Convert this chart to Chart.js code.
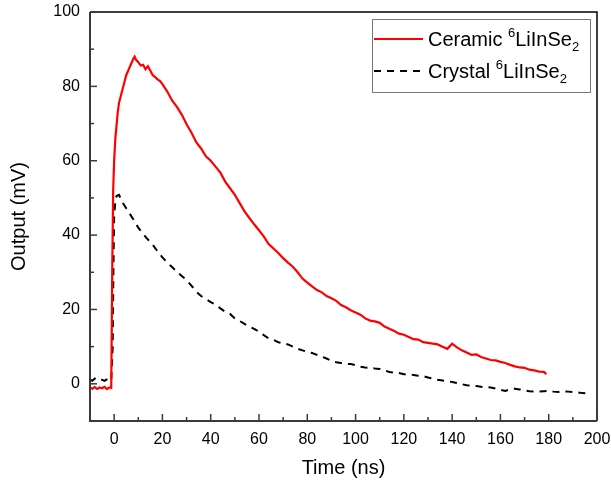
<!DOCTYPE html>
<html>
<head>
<meta charset="utf-8">
<script src="https://cdn.jsdelivr.net/npm/chart.js@4.4.0/dist/chart.umd.min.js"></script>
<style>
  html, body { margin: 0; padding: 0; background: #fff; }
  #wrap { width: 611px; height: 484px; position: relative; }
</style>
</head>
<body>
<div id="wrap"><canvas id="pulse-chart"></canvas></div>
<script>
// Ceramic 6LiInSe2 (red, solid)
const ceramicTime = [-10, -9, -8, -7, -6, -5, -4, -3, -2, -1.2, -0.8, -0.4, 0, 0.5, 1, 1.5, 2, 3, 4, 5, 6, 7, 8, 8.5, 9, 10,
    11, 12, 13, 14, 15, 16, 17, 18, 19, 20, 22, 24, 26, 28, 30, 32, 34, 36, 38, 40, 42, 44, 46, 48, 50,
    52, 54, 56, 58, 60, 62, 64, 66, 68, 70, 72, 74, 76, 78, 80, 82, 84, 86, 88, 90, 92, 94, 96, 98, 100,
    102, 104, 106, 108, 110, 112, 114, 116, 118, 120, 122, 124, 126, 128, 130, 132, 134, 136, 138, 140,
    142, 144, 146, 148, 150, 152, 154, 156, 158, 160, 162, 164, 166, 168, 170, 172, 174, 176, 178, 179];
const ceramicOutput = [-1.0, -1.3, -0.9, -1.4, -1.0, -1.2, -0.8, -1.4, -1.0, -1.1, 30, 52, 60, 66, 69.5, 73, 75.5, 78, 80.5, 83, 84.5, 86, 87.5, 88, 87.2, 86.5,
    85.6, 85.8, 84.6, 85.4, 84.2, 83.0, 82.5, 81.9, 81.4, 80.6, 78.6, 76.2, 74.5, 72.4, 69.8, 67.6, 65.0, 63.3, 61.2, 60.0, 58.4, 56.8, 54.4, 52.6, 50.8,
    48.6, 46.4, 44.6, 42.9, 41.3, 39.6, 37.6, 36.4, 35.2, 33.8, 32.6, 31.5, 30.0, 28.3, 27.2, 26.2, 25.2, 24.6, 23.6, 23.0, 22.3, 21.2, 20.6, 19.8, 19.2,
    18.6, 17.6, 17.0, 16.8, 16.4, 15.4, 14.8, 14.2, 13.5, 13.2, 12.6, 12.0, 11.9, 11.2, 11.0, 10.8, 10.6, 10.0, 9.4, 10.8,
    9.8, 9.0, 8.4, 7.8, 7.9, 7.2, 6.8, 6.4, 6.3, 5.9, 5.6, 5.1, 4.7, 4.4, 4.3, 3.8, 3.6, 3.3, 3.2, 2.6];

// Crystal 6LiInSe2 (black, dashed)
const crystalTime = [-10, -9, -8, -7, -6, -5, -4, -3, -2, -1.2, -0.6, -0.3, 0, 0.5, 1, 2, 3, 4, 5, 6, 8, 10, 12, 14, 16, 18, 20,
    22, 24, 26, 28, 30, 32, 34, 36, 38, 40, 42, 44, 46, 48, 50, 52, 54, 56, 58, 60, 62, 64, 66, 68, 70,
    72, 74, 76, 78, 80, 82, 84, 86, 88, 90, 92, 94, 96, 98, 100, 102, 104, 106, 108, 110, 112, 114, 116, 118, 120,
    122, 124, 126, 128, 130, 132, 134, 136, 138, 140, 142, 144, 146, 148, 150, 152, 154, 156, 158, 160,
    162, 164, 166, 168, 170, 172, 174, 176, 178, 180, 182, 184, 186, 188, 190, 192, 194, 196, 197];
const crystalOutput = [1.2, 0.8, 1.4, 1.0, 0.9, 1.1, 0.8, 1.2, 1.6, 1.0, 10, 30, 45, 49, 50.5, 50.8, 49.5, 48.2, 47.2, 46.2, 44.2, 42.0, 40.3, 38.8, 37.4, 35.6, 34.0,
    32.6, 31.4, 30.1, 29.0, 27.9, 26.4, 24.8, 23.6, 22.8, 22.0, 21.3, 20.3, 19.4, 18.8, 17.6, 16.9, 16.1, 15.4, 14.8, 14.0, 13.1, 12.2, 11.8, 11.2, 10.9,
    10.6, 10.0, 9.4, 9.0, 8.6, 8.3, 7.8, 7.3, 6.8, 6.2, 5.8, 5.6, 5.4, 5.3, 5.0, 4.6, 4.4, 4.3, 4.1, 4.0, 3.6, 3.2, 3.0, 2.9, 2.6,
    2.6, 2.4, 2.2, 2.1, 1.7, 1.4, 1.1, 0.9, 0.7, 0.5, 0.2, -0.1, -0.4, -0.5, -0.6, -0.8, -0.9, -1.0, -1.3, -1.6,
    -1.9, -1.5, -1.3, -1.5, -1.8, -2.0, -2.1, -2.1, -2.0, -1.9, -2.1, -2.2, -2.0, -2.1, -2.2, -2.3, -2.5, -2.6, -2.6];

const xRange = [-10, 200];
const yRange = [-10, 100];
const tickStep = 20;

const FONT = "'Liberation Sans', Arial, sans-serif";

function toPoints(xs, ys) {
    return xs.map((x, i) => ({ x: x, y: ys[i] }));
}

// inward major/minor ticks and the box round the plot
const framePlugin = {
    id: 'frame',
    afterDraw(chart) {
        const ctx = chart.ctx;
        const area = chart.chartArea;
        const xs = chart.scales.x;
        const ys = chart.scales.y;
        ctx.save();
        ctx.lineCap = 'butt';

        ctx.strokeStyle = '#000';
        ctx.lineWidth = 1.5;
        ctx.beginPath();
        ctx.moveTo(area.left, area.top);
        ctx.lineTo(area.right, area.top);
        ctx.lineTo(area.right, area.bottom);
        ctx.stroke();

        ctx.strokeStyle = '#3a3a3a';
        ctx.lineWidth = 2;
        ctx.beginPath();
        ctx.moveTo(area.left, area.top);
        ctx.lineTo(area.left, area.bottom);
        ctx.lineTo(area.right, area.bottom);
        ctx.stroke();

        ctx.lineWidth = 1.5;
        xs.ticks.forEach(t => {
            const px = xs.getPixelForValue(t.value);
            ctx.beginPath();
            ctx.moveTo(px, area.bottom);
            ctx.lineTo(px, area.bottom - 7);
            ctx.stroke();
            const mv = t.value + tickStep / 2;
            if (mv <= xRange[1]) {
                const mp = xs.getPixelForValue(mv);
                ctx.beginPath();
                ctx.moveTo(mp, area.bottom);
                ctx.lineTo(mp, area.bottom - 4);
                ctx.stroke();
            }
        });
        ys.ticks.forEach(t => {
            const py = ys.getPixelForValue(t.value);
            ctx.beginPath();
            ctx.moveTo(area.left, py);
            ctx.lineTo(area.left + 7, py);
            ctx.stroke();
            const mv = t.value + tickStep / 2;
            if (mv < yRange[1]) {
                const mp = ys.getPixelForValue(mv);
                ctx.beginPath();
                ctx.moveTo(area.left, mp);
                ctx.lineTo(area.left + 4, mp);
                ctx.stroke();
            }
        });
        ctx.restore();
    }
};

// legend with superscript 6 and subscript 2
const legendPlugin = {
    id: 'formulaLegend',
    afterDraw(chart) {
        const ctx = chart.ctx;
        ctx.save();
        ctx.fillStyle = '#fff';
        ctx.fillRect(372, 19, 219, 74);
        ctx.strokeStyle = '#777';
        ctx.lineWidth = 1;
        ctx.strokeRect(372.5, 19.5, 218, 73);

        const rows = [
            { ds: chart.data.datasets[0], name: 'Ceramic ', y: 39 },
            { ds: chart.data.datasets[1], name: 'Crystal ', y: 71 }
        ];
        rows.forEach(r => {
            ctx.strokeStyle = r.ds.borderColor;
            ctx.lineWidth = 2;
            ctx.setLineDash(r.ds.borderDash || []);
            ctx.beginPath();
            ctx.moveTo(374, r.y);
            ctx.lineTo(423, r.y);
            ctx.stroke();
            ctx.setLineDash([]);

            ctx.fillStyle = '#000';
            ctx.textBaseline = 'alphabetic';
            ctx.textAlign = 'left';
            const base = r.y + 7;
            let x = 428;
            ctx.font = '20px ' + FONT;
            ctx.fillText(r.name, x, base);
            x += ctx.measureText(r.name).width;
            ctx.font = '13px ' + FONT;
            ctx.fillText('6', x, base - 9);
            x += ctx.measureText('6').width;
            ctx.font = '20px ' + FONT;
            ctx.fillText('LiInSe', x, base);
            x += ctx.measureText('LiInSe').width;
            ctx.font = '13px ' + FONT;
            ctx.fillText('2', x, base + 5);
        });
        ctx.restore();
    }
};

new Chart(document.getElementById('pulse-chart'), {
    type: 'scatter',
    data: {
        datasets: [
            {
                label: 'Ceramic 6LiInSe2',
                data: toPoints(ceramicTime, ceramicOutput),
                showLine: true,
                borderColor: '#ff0000',
                borderWidth: 2.2,
                pointRadius: 0,
                tension: 0
            },
            {
                label: 'Crystal 6LiInSe2',
                data: toPoints(crystalTime, crystalOutput),
                showLine: true,
                borderColor: '#000000',
                borderWidth: 2,
                borderDash: [7, 6],
                pointRadius: 0,
                tension: 0
            }
        ]
    },
    options: {
        responsive: true,
        maintainAspectRatio: false,
        animation: false,
        layout: { padding: { top: 12, right: 14, left: 0, bottom: 0 } },
        plugins: {
            legend: { display: false },
            tooltip: { enabled: false }
        },
        scales: {
            x: {
                type: 'linear',
                min: xRange[0],
                max: xRange[1],
                grid: { drawOnChartArea: false, drawTicks: false },
                border: { display: false },
                ticks: {
                    stepSize: tickStep,
                    includeBounds: false,
                    padding: 9,
                    color: '#000',
                    font: { family: FONT, size: 16 }
                },
                title: {
                    display: true,
                    text: 'Time (ns)',
                    color: '#000',
                    font: { family: FONT, size: 20 },
                    padding: { top: 6 }
                },
                afterFit(scale) {
                    scale.height = 63;
                    scale.paddingLeft = 0;
                    scale.paddingRight = 0;
                }
            },
            y: {
                min: yRange[0],
                max: yRange[1],
                grid: { drawOnChartArea: false, drawTicks: false },
                border: { display: false },
                ticks: {
                    stepSize: tickStep,
                    includeBounds: false,
                    padding: 10,
                    color: '#000',
                    font: { family: FONT, size: 16 }
                },
                title: {
                    display: true,
                    text: 'Output (mV)',
                    color: '#000',
                    font: { family: FONT, size: 20 },
                    padding: { top: 7, bottom: 4 }
                },
                afterFit(scale) {
                    scale.width = 90;
                    scale.paddingTop = 0;
                    scale.paddingBottom = 0;
                }
            }
        }
    },
    plugins: [framePlugin, legendPlugin]
});
</script>
</body>
</html>
